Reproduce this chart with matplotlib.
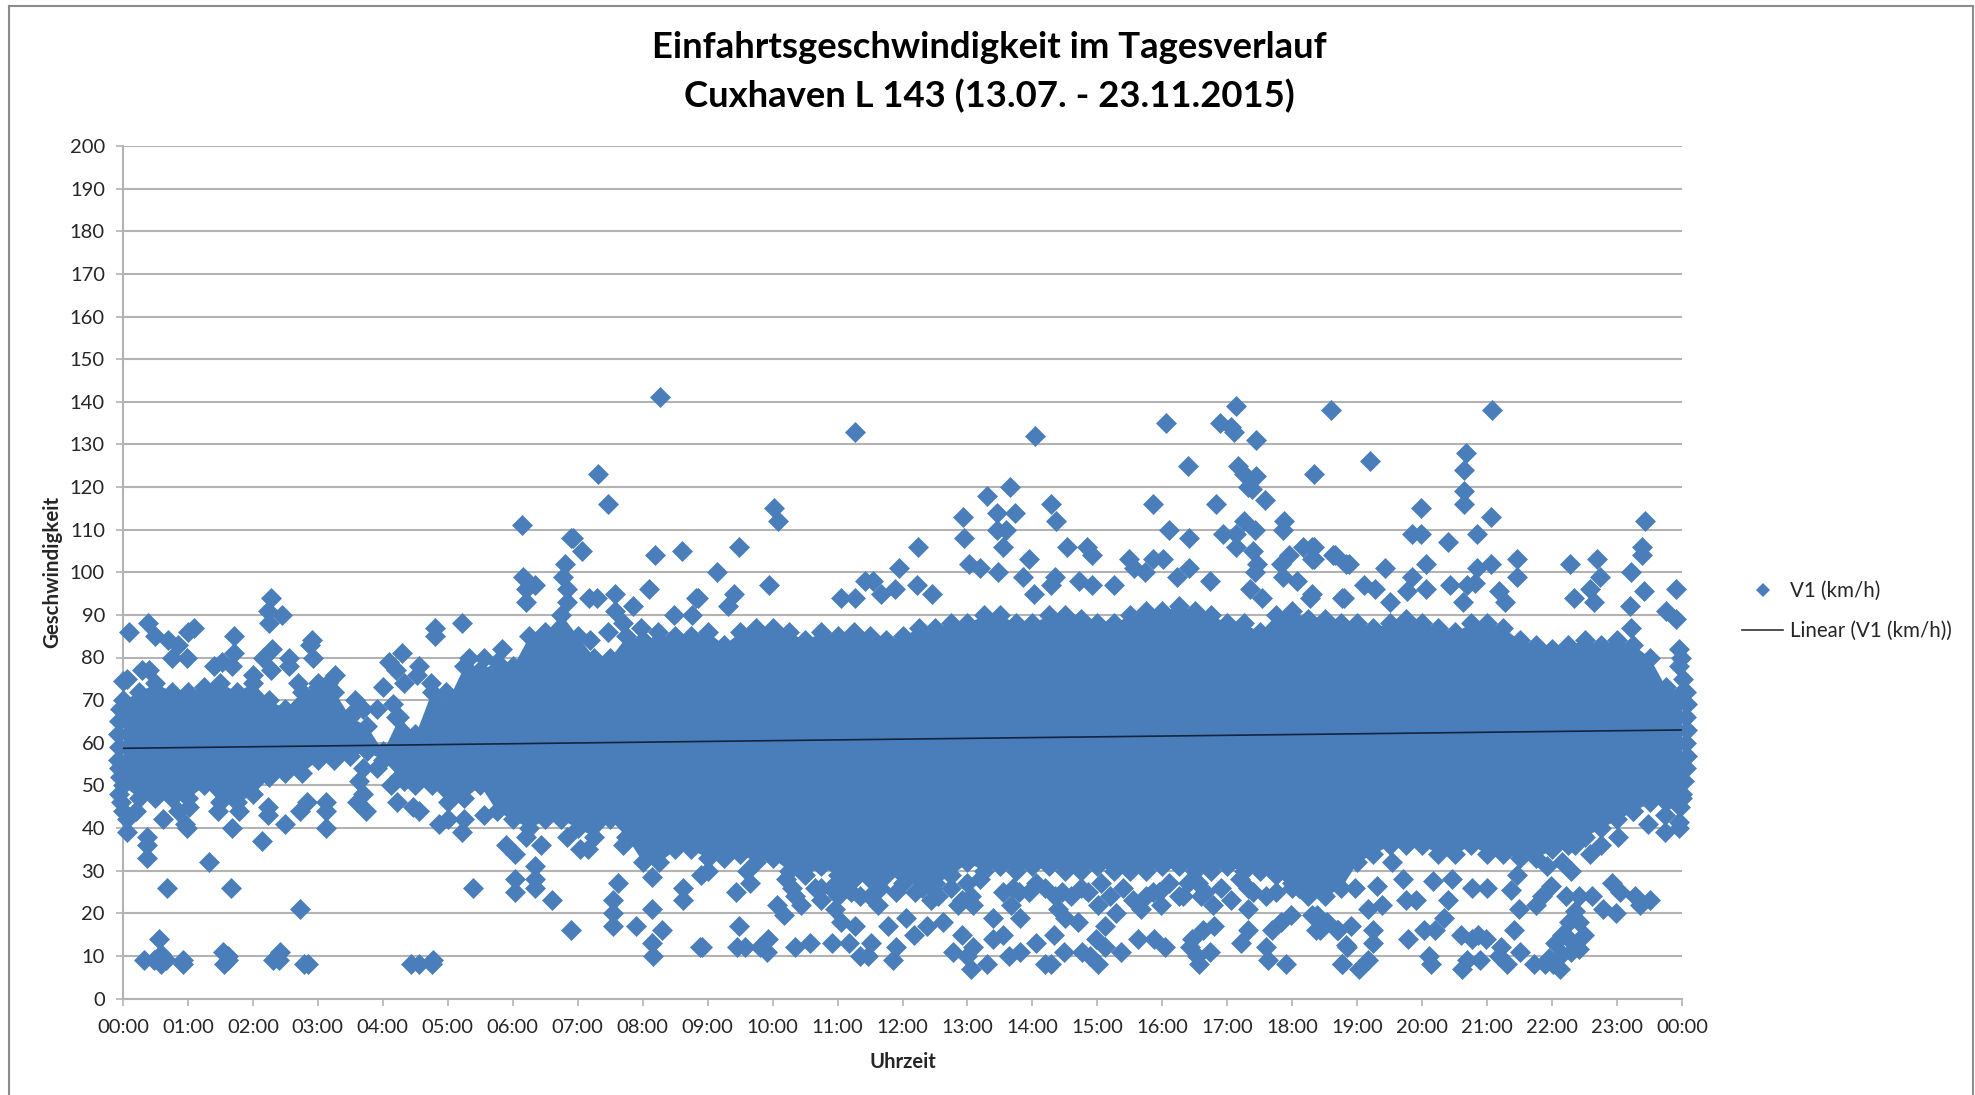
import matplotlib
matplotlib.use("Agg")
import matplotlib.pyplot as plt
from matplotlib.lines import Line2D

plt.rcParams['font.family'] = ['Lato', 'DejaVu Sans']

title_text = "Einfahrtsgeschwindigkeit im Tagesverlauf\nCuxhaven L 143 (13.07. - 23.11.2015)"
x_label = "Uhrzeit"
y_label = "Geschwindigkeit"
series_name = "V1 (km/h)"
trend_name = "Linear (V1 (km/h))"
hour_labels = ["%02d:00" % h for h in range(24)] + ["00:00"]
speed_ticks = list(range(0, 201, 10))

# Dense core of the cloud: outer edge read every quarter hour
band_hours = [i / 4 for i in range(97)]
band_upper = [70, 72, 74, 72, 72, 73, 74, 72, 74, 70, 68, 72, 73, 72, 66, 64,
              58, 66, 62, 72, 70, 78, 77, 79, 78, 85, 86, 90, 85, 80, 80, 85,
              84, 84, 85, 85, 86, 83, 86, 87, 87, 86, 84, 86, 85, 86, 85, 84,
              85, 87, 87, 88, 88, 90, 90, 88, 88, 90, 90, 89, 88, 88, 90, 91,
              91, 92, 91, 90, 88, 88, 86, 90, 91, 89, 89, 88, 88, 87, 88, 89,
              88, 87, 86, 88, 88, 87, 84, 83, 82, 83, 84, 83, 84, 83, 80, 73, 72]
band_lower = [50, 47, 47, 47, 47, 50, 46, 46, 48, 52, 53, 53, 56, 56, 57, 58,
              56, 52, 50, 50, 46, 47, 50, 44, 42, 40, 42, 42, 40, 38, 42, 38,
              32, 32, 35, 35, 33, 33, 34, 32, 33, 30, 29, 31, 29, 28, 28, 29,
              29, 28, 27, 29, 32, 30, 31, 30, 31, 31, 30, 30, 31, 30, 30, 30,
              31, 31, 30, 30, 31, 30, 30, 29, 26, 24, 24, 26, 32, 34, 36, 36,
              36, 34, 34, 36, 34, 34, 33, 33, 35, 36, 38, 40, 42, 44, 46, 46, 47]

# Diamonds sticking out past the first and last time on the axis
left_edge_hours = [-0.04, -0.06, -0.08, -0.06, -0.08, -0.06, -0.04, -0.06, -0.03]
left_edge_speeds = [68, 65, 62, 59, 56, 54, 52, 48, 46]
right_edge_hours = [24.02, 24.06, 24.08, 24.06, 24.08, 24.06, 24.08, 24.06, 24.03, 24.0, 23.97]
right_edge_speeds = [75, 72, 69, 66, 63, 60, 57, 54, 51, 48, 45]

# Clumps just below the core between 09:00 and 18:30
fringe_hours = [9.0, 9.6, 10.2, 10.3, 10.35, 10.65, 10.75, 10.9, 11.0, 11.1, 11.2, 11.35,
                11.5, 11.65, 11.9, 12.0, 12.2, 12.3, 12.45, 12.55, 12.75, 12.85, 13.0, 13.05,
                13.2, 13.55, 13.7, 13.8, 13.95, 14.05, 14.2, 14.35, 14.45, 14.6, 14.75, 14.85,
                15.05, 15.2, 15.4, 15.55, 15.75, 15.85, 15.95, 16.1, 16.25, 16.4, 16.55, 16.65,
                16.9, 17.05, 17.2, 17.4, 17.6, 17.75, 18.0, 18.1, 18.25, 18.45]
fringe_speeds = [30, 30, 28, 26, 24, 26, 26, 26, 24, 27, 25, 24,
                 24, 26, 25, 27, 25, 26, 26, 24, 26, 22, 27, 24,
                 28, 25, 26, 25, 25, 27, 26, 24, 25, 24, 26, 25,
                 27, 24, 26, 23, 24, 25, 25, 27, 24, 27, 27, 25,
                 26, 23, 28, 25, 24, 25, 27, 26, 25, 26]

# Single diamonds above the core
upper_hours = [0.1, 0.39, 0.5, 0.7, 0.85, 0.75, 0.99, 1.0, 1.1, 0.4, 0.3, 0.0, 0.06,
               1.4, 1.52, 1.68, 1.71, 1.71, 2.0, 2.16, 2.3, 2.28, 2.24, 2.23, 2.28, 2.45, 2.56, 2.56,
               2.91, 2.88, 2.93, 3.0, 3.26, 3.15, 2.7,
               3.57, 3.53, 3.7, 3.91, 4.01, 4.15, 4.2, 4.1, 4.2, 4.3, 4.32, 4.55, 4.53, 4.8, 4.8, 4.74,
               4.98, 5.22, 5.32, 5.84, 5.56,
               6.14, 6.16, 6.21, 6.35, 6.21, 6.8, 6.78, 6.83, 6.83, 6.89, 6.93, 7.07, 7.18, 7.29, 7.31,
               7.46, 7.57, 7.57, 7.47, 7.19, 7.85, 7.69, 7.97, 8.1, 8.19, 8.26, 8.6, 8.48, 8.76, 8.82, 8.24,
               9.14, 9.48, 9.41, 9.31, 8.85, 9.94, 10.02, 10.09,
               11.06, 11.27, 11.42, 11.54, 11.27, 11.67, 11.89, 11.94, 12.22, 12.24, 12.45, 12.93, 12.95,
               13.02, 13.19, 13.3, 13.45, 13.45, 13.59, 13.55, 13.73, 13.66, 13.47, 14.04, 13.95, 13.85,
               14.02, 14.28, 14.36, 14.35, 14.29, 14.53, 14.84, 14.92, 14.72, 14.91, 15.25, 15.49, 15.56,
               15.73, 15.86, 15.86, 16.01, 16.06, 16.1, 16.39, 16.41, 16.41, 16.22, 16.73, 16.82, 16.89,
               16.94, 17.05, 17.1, 17.14, 17.16, 17.25, 17.14, 17.14, 17.25, 17.32, 17.44, 17.38, 17.44,
               17.58, 17.42, 17.4, 17.46, 17.42, 17.35, 17.54, 17.88, 17.86, 17.95, 17.83, 17.85, 18.07,
               18.16, 18.33, 18.33, 18.33, 18.6, 18.66, 18.83, 18.79, 18.28,
               21.07, 19.19, 20.68, 20.64, 20.64, 20.64, 21.06, 19.98, 19.84, 19.98, 20.4, 20.84,
               23.43, 23.39, 23.39, 23.22, 23.9, 23.41, 23.75, 23.9, 23.96, 23.98, 23.95,
               19.1, 19.27, 19.43, 18.87, 18.3, 18.3, 18.63, 19.84, 19.76, 20.06, 20.06, 20.43, 20.69,
               20.82, 20.63, 20.84, 21.06, 21.19, 21.28, 21.46, 21.46, 22.27, 22.34, 22.69, 22.74, 22.59,
               22.64, 23.2, 23.22, 18.77, 18.3, 19.5]
upper_speeds = [86, 88, 85, 84, 83, 80, 80, 86, 87, 77, 77, 74.5, 75,
                78, 79, 78, 85, 81, 76, 80, 82, 77, 88, 91, 94, 90, 80, 78,
                84, 83, 80, 74, 76, 74, 74,
                70, 67, 68, 68, 73, 69, 66, 79, 77, 81, 74, 78, 76, 87, 85, 74,
                72, 88, 80, 82, 80,
                111, 99, 96, 97, 93, 102, 99, 96, 93, 108, 108, 105, 94, 94, 123,
                116, 95, 91, 86, 84, 92, 88, 87, 96, 104, 141, 105, 90, 90, 94, 86,
                100, 106, 95, 92, 94, 97, 115, 112,
                94, 94, 98, 98, 133, 95, 96, 101, 97, 106, 95, 113, 108,
                102, 101, 118, 114, 110, 110, 106, 114, 120, 100, 132, 103, 99,
                95, 116, 112, 99, 97, 106, 106, 104, 98, 97, 97, 103, 101,
                100, 116, 103, 103, 135, 110, 125, 108, 101, 99, 98, 116, 135,
                109, 134, 133, 139, 125, 112, 109, 106, 123, 120, 122.5, 119.5, 131,
                117, 110, 105, 102, 100, 96, 94, 112, 110, 104, 102, 99, 98,
                106, 123, 106, 103, 138, 104, 102, 94, 94,
                138, 126, 128, 124, 119, 116, 113, 115, 109, 109, 107, 109,
                112, 106, 104, 100, 96, 95.5, 91, 89, 82, 80, 78,
                97, 96, 101, 102, 106, 103, 104, 99, 95.5, 102, 96, 97, 97,
                97.5, 93, 101, 102, 95.5, 93, 103, 99, 102, 94, 103, 99, 96,
                93, 92, 87, 94, 95, 93]

# Single diamonds below the core
lower_hours = [0.06, 0.06, 0.0, 0.2, 0.37, 0.37, 0.37, 0.61, 0.95, 0.98, 1.02, 0.85,
               1.33, 0.68, 1.66, 1.47, 1.68, 1.78, 2.14, 2.23, 2.23, 2.5, 2.72, 2.83, 3.12, 3.12, 3.12, 2.72,
               0.56, 0.32, 0.58, 0.58, 0.47, 0.66, 0.93, 0.92, 1.54, 1.61, 1.55, 1.61, 2.42, 2.31, 2.4, 2.78, 2.85,
               3.7, 3.91, 3.64, 3.7, 3.6, 3.74, 4.22, 4.46, 4.56, 4.12, 4.32,
               4.43, 4.55, 4.76, 4.77, 4.87, 5.0, 5.22, 5.25, 5.56, 5.39,
               5.9, 6.03, 6.03, 6.03, 6.34, 6.34, 6.34, 6.43, 6.21, 6.6, 6.89, 6.83, 7.04, 7.16,
               7.62, 7.55, 7.55, 7.55, 7.9, 8.14, 8.14, 8.16, 8.3, 8.14, 8.62, 8.62, 8.88, 7.69,
               8.9, 9.43, 9.65, 9.48, 8.91, 9.45, 9.58, 9.81, 9.93, 9.91, 10.07, 10.17, 10.34, 10.58, 10.44,
               10.75, 10.91, 10.96, 11.06, 11.27, 11.17, 11.34, 11.47, 11.51, 11.63, 11.78, 11.9, 11.85,
               12.06, 12.18, 12.37, 12.44, 12.63, 12.77, 12.92, 13.05, 13.0, 13.09, 12.92, 13.09, 13.3, 13.4,
               13.4, 13.54, 13.64, 13.81, 13.81, 13.67, 14.05, 14.19, 14.28, 14.33, 14.4, 14.48, 14.5, 14.7,
               14.77, 15.01, 14.88, 14.98, 15.01, 15.12, 15.12, 15.36, 15.29, 15.63, 15.67, 15.87, 16.04, 15.98,
               16.56, 16.53, 16.73, 16.42, 16.45, 16.63, 16.8, 16.78, 16.32, 16.6, 17.21, 17.32, 17.32, 17.32,
               17.59, 17.62, 17.69, 17.83, 17.98, 17.91, 18.38, 18.42, 18.54, 18.69, 18.76, 18.82,
               23.95, 23.96, 23.74, 23.74, 23.48, 23.25, 23.02, 22.75, 22.59, 22.36, 22.29, 22.15, 21.92, 21.69,
               22.92, 23.05, 23.28, 23.35, 23.5, 22.22, 22.42, 22.62, 22.79, 22.99, 22.36, 22.26, 22.42, 22.49,
               22.15, 22.05, 22.26, 22.42, 22.29, 22.15, 22.12, 22.02, 21.89, 21.72, 21.95,
               21.98, 21.85, 21.75, 21.49, 21.42, 21.5, 21.3, 21.22, 21.19, 20.99, 20.86, 20.76, 20.6, 20.89,
               20.69, 20.61, 21.0, 20.76, 21.36, 21.46, 20.4, 20.46, 20.33, 20.2, 20.03, 20.1, 20.13, 19.78,
               19.91, 19.75, 19.38, 19.17, 19.25, 19.25, 19.17, 19.03, 18.77, 18.85, 18.9, 18.7, 18.37, 18.47,
               18.3, 19.3, 18.97, 19.7, 19.53, 20.16]
lower_speeds = [39, 42, 44, 44, 38, 36, 33, 42, 41, 40, 45, 44,
                32, 26, 26, 44, 40, 44, 37, 43, 45, 41, 44, 46, 40, 44, 46, 21,
                14, 9, 10.5, 8, 9, 9, 9, 8, 11, 10, 8, 9, 11, 9, 9, 8, 8,
                54, 54, 51, 48, 46, 44, 46, 45, 44, 50, 51,
                8, 8, 8, 9, 41, 42, 39, 42, 43, 26,
                36, 34, 28, 25, 31, 28, 26, 36, 38, 23, 16, 38, 35, 35,
                27, 23, 20, 17, 17, 21, 13, 10, 16, 28.5, 26, 23, 12, 36,
                29, 25, 27, 17, 12, 12, 12, 12, 14, 11, 22, 19.5, 12, 13, 22,
                23, 13, 21, 18, 17, 13, 10, 10, 13, 22, 17, 12, 9,
                19, 15, 17, 23, 18, 11, 15, 7, 10, 12, 23, 22, 8, 19,
                14, 15, 10, 11, 19, 22, 13, 8, 8, 15, 21, 11, 19, 18,
                11, 8, 10, 14, 22, 12, 17, 11, 20, 14, 21, 14, 12, 22,
                8, 10, 11, 12, 14, 16, 17, 22, 24, 24, 13, 16, 21, 26,
                12, 9, 16, 18, 19.5, 8, 19.5, 16, 18, 16, 8, 12.5,
                40, 41.5, 39, 43, 41, 44, 38, 36, 34, 36, 30, 32, 31, 42,
                27, 25, 24, 22, 23, 24, 24, 24, 21, 20, 20.5, 18, 18, 15,
                15, 13, 14, 11.5, 11, 10.5, 7, 8, 8, 8, 9.5,
                26.5, 24, 22, 21, 16, 11, 8, 12, 10, 14, 15, 14, 15, 9,
                9, 7, 26, 26, 25.5, 29, 23, 28, 19, 16, 16, 10, 8, 14,
                23, 23, 22, 21, 16, 13, 9, 7, 8, 12, 17, 16, 16, 18,
                19.5, 26.5, 26, 28, 32, 27.5]

trend_hours = [0, 24]
trend_speeds = [58.7, 63.0]

BLUE = "#4A7EBB"
GRID = "#B3B3B3"
TEXT = "#262626"
W, H = 1975, 1095

fig = plt.figure(figsize=(W / 100, H / 100), dpi=100, facecolor="white")
ax = fig.add_axes([123 / W, 1 - 998.5 / H, (1682 - 123) / W, (998.5 - 146) / H])
ax.set_xlim(0, 24)
ax.set_ylim(0, 200)
ax.set_yticks(speed_ticks)
ax.set_xticks(range(25))
ax.set_xticklabels(hour_labels)
ax.grid(axis="y", color=GRID, lw=1.5, zorder=0)
ax.set_axisbelow(True)
ax.tick_params(axis="both", length=5, width=1.2, color=GRID, labelsize=14.5, labelcolor=TEXT)
ax.tick_params(axis="x", pad=10)
ax.tick_params(axis="y", pad=8)
for name in ("top", "right"):
    ax.spines[name].set_visible(False)
for name in ("left", "bottom"):
    ax.spines[name].set_color(GRID)
    ax.spines[name].set_linewidth(1.5)

ax.fill_between(band_hours, band_lower, band_upper, color=BLUE, lw=0, zorder=2, clip_on=False)
style = dict(marker="D", s=114, color=BLUE, linewidths=0, zorder=3, clip_on=False)
ax.scatter(band_hours, band_upper, **style)
ax.scatter(band_hours, band_lower, **style)
ax.scatter(left_edge_hours, left_edge_speeds, **style)
ax.scatter(right_edge_hours, right_edge_speeds, **style)
ax.scatter(fringe_hours, fringe_speeds, **style)
ax.scatter(upper_hours, upper_speeds, **style)
ax.scatter(lower_hours, lower_speeds, **style)
ax.plot(trend_hours, trend_speeds, color="#12263F", lw=1.2, zorder=4)

ax.set_xlabel(x_label, fontsize=14.5, fontweight="bold", color=TEXT, labelpad=11)
ax.set_ylabel(y_label, fontsize=14.8, fontweight="bold", color=TEXT, labelpad=5.5)
fig.text(989 / W, 1 - 72 / H, title_text, fontsize=26.3, fontweight="bold", color="black",
         ha="center", va="center", linespacing=1.5)

handles = [Line2D([], [], marker="D", ls="", color=BLUE, ms=7.5, mew=0),
           Line2D([], [], color="#333333", lw=1.2)]
leg = fig.legend(handles, [series_name, trend_name], loc="center left",
                 bbox_to_anchor=(1742 / W, 1 - 611 / H), frameon=False, fontsize=14.8,
                 handlelength=2.0, handletextpad=0.35, labelspacing=0.95, borderpad=0, borderaxespad=0,
                 labelcolor=TEXT)

for xs, ys in (([9, 9], [0, 1 - 6 / H]), ([9, 1973], [1 - 6 / H, 1 - 6 / H]),
               ([1973, 1973], [1 - 6 / H, 0])):
    fig.add_artist(Line2D([x / W for x in xs], ys, color="#8C8C8C", lw=1.5))

fig.savefig("out.png", dpi=100, facecolor="white")
